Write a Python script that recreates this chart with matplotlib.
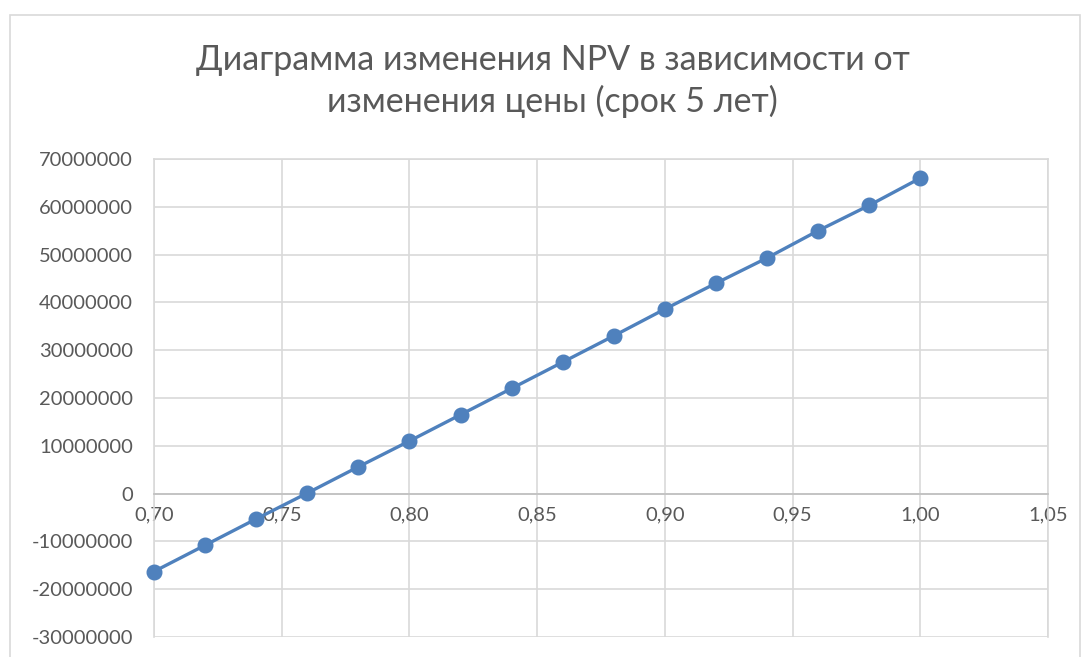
import matplotlib.pyplot as plt
from matplotlib.patches import Rectangle
from matplotlib.ticker import FuncFormatter, MultipleLocator

price_factor = [0.70, 0.72, 0.74, 0.76, 0.78, 0.80, 0.82, 0.84,
                0.86, 0.88, 0.90, 0.92, 0.94, 0.96, 0.98, 1.00]
npv = [-16300000, -10800000, -5300000, 100000, 5600000, 11000000, 16500000, 22000000,
       27500000, 33000000, 38600000, 44000000, 49300000, 55000000, 60300000, 66000000]

title_lines = ['Диаграмма изменения NPV в зависимости от', 'изменения цены (срок 5 лет)']

plt.rcParams['font.family'] = ['Lato', 'DejaVu Sans']

fig = plt.figure(figsize=(10.88, 6.57), dpi=100)
fig.patches.append(Rectangle((10 / 1088, -0.1), 1070 / 1088, 1.1 - 15 / 657,
                             transform=fig.transFigure, fill=False,
                             edgecolor='#d9d9d9', linewidth=1.2))

ax = fig.add_axes([154 / 1088, 1 - 637 / 657, (1048 - 154) / 1088, (637 - 159) / 657])
ax.plot(price_factor, npv, color='#4F81BD', linewidth=2.4, marker='o',
        markersize=10.5, zorder=3, clip_on=False)

ax.set_xlim(0.70, 1.05)
ax.set_ylim(-30000000, 70000000)
ax.xaxis.set_major_locator(MultipleLocator(0.05))
ax.yaxis.set_major_locator(MultipleLocator(10000000))
ax.xaxis.set_major_formatter(FuncFormatter(lambda v, p: f'{v:.2f}'.replace('.', ',')))
ax.yaxis.set_major_formatter(FuncFormatter(lambda v, p: f'{v:.0f}'))

ax.grid(True, color='#d9d9d9', linewidth=1.2, zorder=0)
ax.set_axisbelow(True)
for side in ['left', 'right', 'top']:
    ax.spines[side].set_color('#d9d9d9')
    ax.spines[side].set_linewidth(1.2)
ax.spines['bottom'].set_position(('data', 0))
ax.spines['bottom'].set_color('#bfbfbf')
ax.spines['bottom'].set_linewidth(1.2)

ax.tick_params(axis='both', length=0, labelsize=14.5, colors='#595959')
ax.tick_params(axis='x', pad=9)
ax.tick_params(axis='y', pad=15)

fig.text(0.508, 1 - 60 / 657, title_lines[0], ha='center', va='center',
         fontsize=24.5, color='#595959')
fig.text(0.508, 1 - 101 / 657, title_lines[1], ha='center', va='center',
         fontsize=24.5, color='#595959')

fig.savefig('out.png', dpi=100)
